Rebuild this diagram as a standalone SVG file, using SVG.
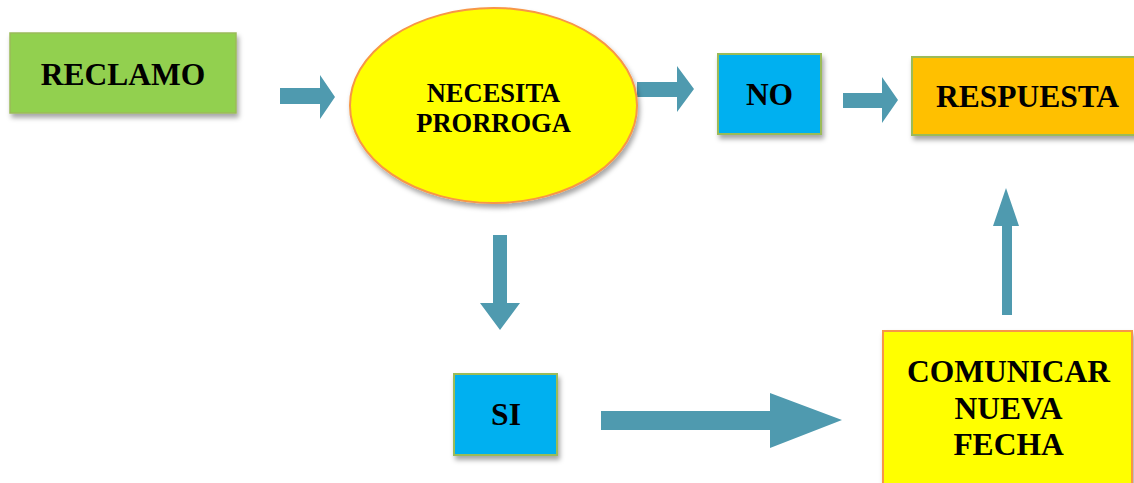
<svg xmlns="http://www.w3.org/2000/svg" width="1134" height="483" viewBox="0 0 1134 483">
<defs>
<filter id="sh" x="-10%" y="-10%" width="130%" height="140%">
<feDropShadow dx="2" dy="4" stdDeviation="2.5" flood-color="#000" flood-opacity="0.35"/>
</filter>
<style>
.t{font-family:"Liberation Serif","Times New Roman",serif;font-weight:bold;fill:#000;text-anchor:middle}
.big{font-size:31.5px}
.mid{font-size:26.5px}
.arrow{fill:#4F9AAF}
.green{fill:#92D050;stroke:#9BBB59;stroke-width:1.5}
.blue{fill:#00B0F0;stroke:#9BBB59;stroke-width:2}
.orange{fill:#FFC000;stroke:#9BBB59;stroke-width:2}
.yellow{fill:#FFFF00;stroke:#F79646;stroke-width:2}
</style>
</defs>
<rect width="1134" height="483" fill="#fff"/>
<g id="connectors">
<polygon class="arrow" points="280,88 320,88 320,75 335,97 320,119 320,104 280,104"/>
<polygon class="arrow" points="637,82 677,82 677,66 694,89 677,112 677,97 637,97"/>
<polygon class="arrow" points="843,93 882,93 882,77 898,100 882,123 882,108 843,108"/>
<polygon class="arrow" points="493,235 507,235 507,303 520,303 500,330 480,303 493,303"/>
<polygon class="arrow" points="601,411 770,411 770,393 842,420 770,448 770,430 601,430"/>
<polygon class="arrow" points="1002,315 1002,226 993,226 1006,188 1019,226 1012,226 1012,315"/>
</g>
<g id="reclamo">
<rect class="green" x="10" y="33" width="226" height="80" filter="url(#sh)"/>
<text class="t big" x="123" y="85">RECLAMO</text>
</g>
<g id="necesita">
<ellipse class="yellow" cx="493.5" cy="105.5" rx="143.5" ry="97.5" filter="url(#sh)"/>
<text class="t mid" x="493.5" y="102">NECESITA</text>
<text class="t mid" x="493.5" y="132">PRORROGA</text>
</g>
<g id="no">
<rect class="blue" x="718" y="54" width="103" height="80" filter="url(#sh)"/>
<text class="t big" x="769.5" y="105">NO</text>
</g>
<g id="respuesta">
<rect class="orange" x="912" y="57" width="232" height="78" filter="url(#sh)"/>
<text class="t big" x="1027.5" y="107">RESPUESTA</text>
</g>
<g id="si">
<rect class="blue" x="454" y="374" width="103" height="81" filter="url(#sh)"/>
<text class="t big" x="506" y="425">SI</text>
</g>
<g id="comunicar">
<rect class="yellow" x="883" y="331" width="249" height="170" filter="url(#sh)"/>
<text class="t big" x="1008.5" y="382">COMUNICAR</text>
<text class="t big" x="1008.5" y="419">NUEVA</text>
<text class="t big" x="1008.5" y="455">FECHA</text>
</g>
</svg>
